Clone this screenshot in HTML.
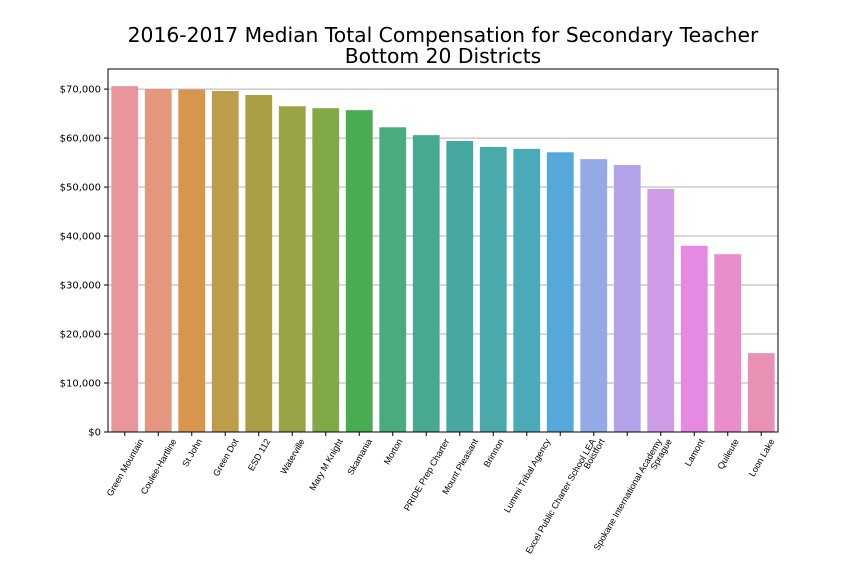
<!DOCTYPE html>
<html><head><meta charset="utf-8"><style>body{margin:0;background:#fff}svg{display:block;font-family:"DejaVu Sans","Liberation Sans",sans-serif}</style></head>
<body>
<svg id="chart" width="864" height="576">
<text x="443" y="42" font-size="20.3" text-anchor="middle">2016-2017 Median Total Compensation for Secondary Teacher</text>
<text x="443" y="63" font-size="20.3" text-anchor="middle">Bottom 20 Districts</text>
<g id="grid"></g><g id="bars"></g><g id="axes"></g>
</svg>
<script>
const categories=["Green Mountain","Coulee-Hartline","St John","Green Dot","ESD 112","Waterville","Mary M Knight","Skamania","Morton","PRIDE Prep Charter","Mount Pleasant","Brinnon","Lummi Tribal Agency","Excel Public Charter School LEA","Boistfort","Spokane International Academy","Sprague","Lamont","Quileute","Loon Lake"];
const values=[70600,70000,69900,69600,68800,66500,66100,65700,62200,60600,59400,58200,57800,57100,55700,54500,49600,38000,36300,16100];
const colors=["#e9959b","#e4977e","#d8964c","#bf9c4a","#aa9e45","#9aa346","#81a947","#4aac52","#4aab7e","#47aa90","#47a89f","#49a9ab","#4baab8","#55a8d9","#93aae6","#b4a3e9","#cf9ce8","#e589e3","#e98ecb","#e891b5"];
const yTicks=[0,10000,20000,30000,40000,50000,60000,70000];
const L=108,R=778,T=69,B=432,yMax=74100;
const ns="http://www.w3.org/2000/svg";
const y=v=>B-v/yMax*(B-T);
const step=(R-L)/categories.length;
const x=i=>L+step*(i+0.5);
function mk(t,a,p){const e=document.createElementNS(ns,t);for(const k in a)e.setAttribute(k,a[k]);p.appendChild(e);return e;}
const grid=document.getElementById('grid'),bars=document.getElementById('bars'),axes=document.getElementById('axes');
yTicks.forEach(v=>{
 const g=mk('line',{x1:L,x2:R,y1:y(v),y2:y(v),stroke:'#b0b0b0','stroke-width':1},grid);
 
 
 mk('line',{x1:L-4,x2:L,y1:y(v),y2:y(v),stroke:'#000'},axes);
 const t=mk('text',{x:L-7,y:y(v)+3.5,'font-size':10,'text-anchor':'end'},axes);
 t.textContent='$'+v.toLocaleString('en-US');
 
 
});
categories.forEach((c,i)=>{
 const w=step*0.8;
 const r=mk('rect',{x:x(i)-w/2,y:y(values[i]),width:w,height:B-y(values[i]),fill:colors[i]},bars);
 
 
 mk('line',{x1:x(i),x2:x(i),y1:B,y2:B+4,stroke:'#000'},axes);
 const t=mk('text',{'font-size':9,'text-anchor':'end','font-family':'"Liberation Sans",sans-serif'},axes);
 t.textContent=c;
 
 
 const len=t.getComputedTextLength();
 const ex=x(i)+len*0.5/2+3, ey=B+9;
 t.setAttribute('transform','translate('+ex+','+ey+') rotate(-60)');
});
const f=mk('rect',{x:L,y:T,width:R-L,height:B-T,fill:'none',stroke:'#000','stroke-width':1},axes);


</script>
</body></html>
